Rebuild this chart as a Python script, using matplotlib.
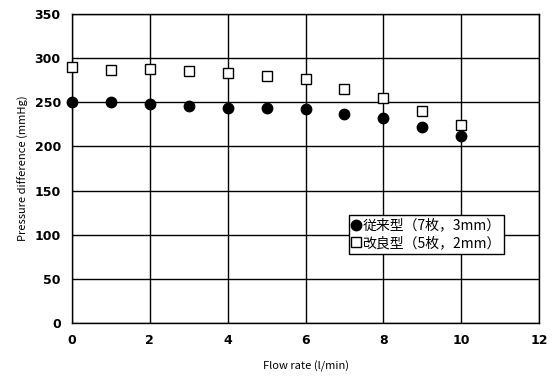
import matplotlib
matplotlib.use("Agg")
import matplotlib.pyplot as plt

# Data
flow_rate = [0, 1, 2, 3, 4, 5, 6, 7, 8, 9, 10]
conventional = [250, 250, 248, 246, 244, 243, 242, 237, 232, 222, 212]
improved = [290, 287, 288, 285, 283, 280, 276, 265, 255, 240, 224]

x_ticks = [0, 2, 4, 6, 8, 10, 12]
y_ticks = [0, 50, 100, 150, 200, 250, 300, 350]

labels = ["従来型（7枚，3mm）", "改良型（5枚，2mm）"]

plt.rcParams["font.family"] = ["Noto Sans CJK JP", "DejaVu Sans"]

fig = plt.figure(figsize=(5.53, 3.76), dpi=100)
ax = fig.add_axes([0.130, 0.141, 0.845, 0.822])

ax.plot(flow_rate, conventional, linestyle="none", marker="o", markersize=7.5,
        color="black", label=labels[0], zorder=3, clip_on=False)
ax.plot(flow_rate, improved, linestyle="none", marker="s", markersize=6.8,
        markerfacecolor="white", markeredgecolor="black", markeredgewidth=1.0,
        label=labels[1], zorder=3, clip_on=False)

ax.set_xlim(0, 12)
ax.set_ylim(0, 350)
ax.set_xticks(x_ticks)
ax.set_yticks(y_ticks)
ax.grid(True, color="black", linewidth=1.0)
ax.set_axisbelow(True)
for spine in ax.spines.values():
    spine.set_linewidth(1.0)
ax.tick_params(length=0, labelsize=9, pad=8)
for lbl in ax.get_xticklabels() + ax.get_yticklabels():
    lbl.set_fontweight("bold")
    lbl.set_family("DejaVu Sans")

ax.set_xlabel("Flow rate (l/min)", fontsize=8, labelpad=10)
ax.set_ylabel("Pressure difference (mmHg)", fontsize=8, labelpad=4)

leg = ax.legend(loc="upper left", bbox_to_anchor=(0.593, 0.349), fontsize=10,
                frameon=True, fancybox=False, edgecolor="black",
                handlelength=0.5, handletextpad=0.2, borderpad=0.25,
                labelspacing=0.25, borderaxespad=0)
leg.get_frame().set_linewidth(1.0)
leg.get_frame().set_alpha(1)

fig.savefig("out.png", dpi=100)
